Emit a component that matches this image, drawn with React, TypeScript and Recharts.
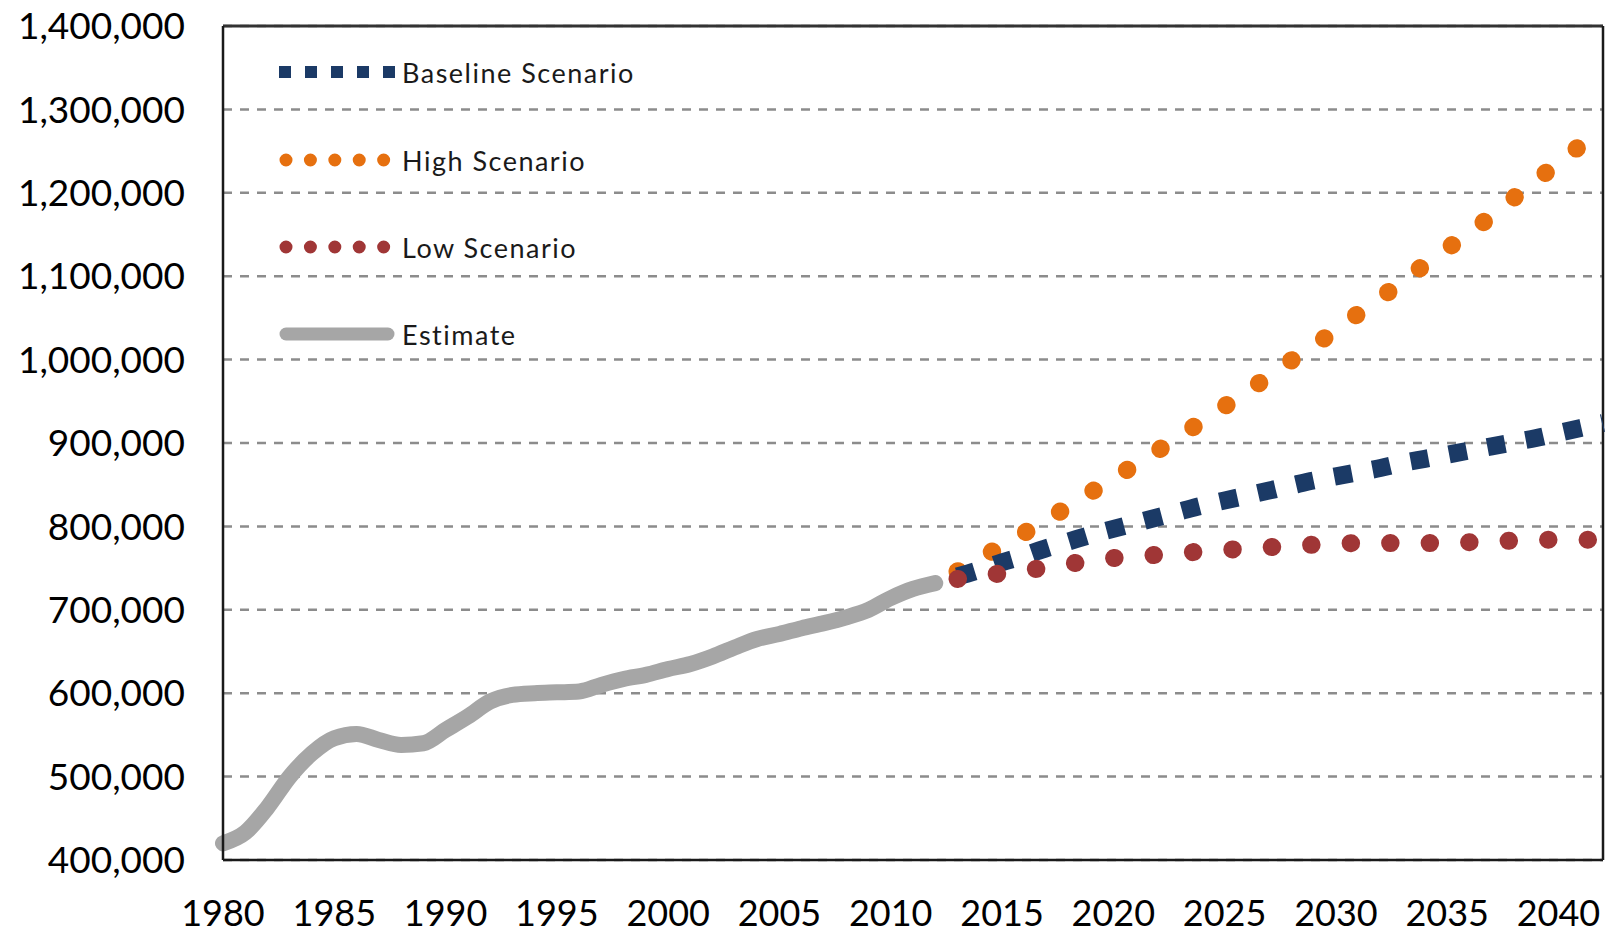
import React from 'react';
import { LineChart, Line, XAxis, YAxis, CartesianGrid, ReferenceLine } from 'recharts';

const estimateYears = [1980, 1981, 1982, 1983, 1984, 1985, 1986, 1987, 1988, 1989, 1990, 1991, 1992, 1993, 1994, 1995, 1996, 1997, 1998, 1999, 2000, 2001, 2002, 2003, 2004, 2005, 2006, 2007, 2008, 2009, 2010, 2011, 2012];
const estimate = [420000, 433000, 463000, 500000, 528000, 546000, 551000, 544000, 538000, 540000, 556000, 572000, 590000, 598000, 600000, 601000, 602000, 610000, 617000, 622000, 629000, 635000, 644000, 655000, 665000, 671000, 678000, 684000, 691000, 700000, 714000, 725000, 732000];

const projectionYears = [2013, 2014, 2015, 2016, 2017, 2018, 2019, 2020, 2021, 2022, 2023, 2024, 2025, 2026, 2027, 2028, 2029, 2030, 2031, 2032, 2033, 2034, 2035, 2036, 2037, 2038, 2039, 2040, 2041, 2042];
const baseline = [740000, 748000, 757000, 765000, 774000, 782000, 790000, 797000, 804000, 811000, 818000, 825000, 831000, 837000, 843000, 849000, 855000, 860000, 865000, 870000, 876000, 881000, 886000, 891000, 896000, 901000, 906000, 912000, 918000, 924000];
const high = [746000, 761000, 777000, 792000, 808000, 824000, 841000, 858000, 874000, 891000, 909000, 926000, 944000, 962000, 980000, 999000, 1017000, 1035000, 1055000, 1074000, 1094000, 1114000, 1133000, 1153000, 1172000, 1194000, 1215000, 1236000, 1257000, 1278000];
const low = [737000, 740000, 744000, 747000, 751000, 755000, 759000, 762000, 764000, 766000, 768000, 770000, 772000, 773000, 775000, 777000, 778000, 779000, 780000, 780000, 780000, 780000, 780000, 781000, 782000, 783000, 784000, 784000, 784000, 784000];

const xTicks = [1980, 1985, 1990, 1995, 2000, 2005, 2010, 2015, 2020, 2025, 2030, 2035, 2040];
const yTicks = [400000, 500000, 600000, 700000, 800000, 900000, 1000000, 1100000, 1200000, 1300000, 1400000];

const seriesNames = ['Baseline Scenario', 'High Scenario', 'Low Scenario', 'Estimate'];
const COLORS = { baseline: '#1b3a66', high: '#e6700f', low: '#a03636', estimate: '#a6a6a6' };

const rows: any[] = [];
estimateYears.forEach((y, i) => rows.push({ year: y, estimate: estimate[i] }));
projectionYears.forEach((y, i) => rows.push({ year: y, baseline: baseline[i], high: high[i], low: low[i] }));

const FONT = 'Lato, "Open Sans", sans-serif';

function LegendOverlay() {
  const ys = [72, 160, 247, 334];
  return (
    <svg width={700} height={400} style={{ position: 'absolute', left: 0, top: 0, pointerEvents: 'none' }}>
      <line x1={279} x2={395} y1={ys[0]} y2={ys[0]} stroke={COLORS.baseline} strokeWidth={12} strokeDasharray="12 14" />
      <line x1={286} x2={385} y1={ys[1]} y2={ys[1]} stroke={COLORS.high} strokeWidth={13} strokeDasharray="0.01 24.4" strokeLinecap="round" />
      <line x1={286} x2={385} y1={ys[2]} y2={ys[2]} stroke={COLORS.low} strokeWidth={13} strokeDasharray="0.01 24.4" strokeLinecap="round" />
      <line x1={286} x2={388} y1={ys[3]} y2={ys[3]} stroke={COLORS.estimate} strokeWidth={13} strokeLinecap="round" />
      {seriesNames.map((n, i) => (
        <text key={n} x={402} y={ys[i]} dominantBaseline="central" fontFamily={FONT} fontSize={27} letterSpacing={1.5} fill="#1a1a1a">
          {n}
        </text>
      ))}
    </svg>
  );
}

export default function App() {
  return (
    <div style={{ position: 'absolute', left: 0, top: 0, width: 1610, height: 934, background: '#fff' }}>
      <LineChart width={1610} height={934} data={rows} margin={{ top: 26, right: 7, bottom: 0, left: 0 }}>
        <CartesianGrid vertical={false} stroke="#8c8c8c" strokeWidth={2.5} strokeDasharray="9 8" />
        <XAxis
          type="number"
          dataKey="year"
          domain={[1980, 2042]}
          ticks={xTicks}
          interval={0}
          height={74}
          tickLine={false}
          tickSize={0}
          tickMargin={40}
          axisLine={{ stroke: '#1a1a1a', strokeWidth: 2.5 }}
          tick={{ fontFamily: FONT, fontSize: 36, fill: '#000' }}
        />
        <YAxis
          domain={[400000, 1400000]}
          ticks={yTicks}
          interval={0}
          width={223}
          tickLine={false}
          tickSize={0}
          tickMargin={38}
          axisLine={{ stroke: '#1a1a1a', strokeWidth: 2.5 }}
          tickFormatter={(v: number) => v.toLocaleString('en-US')}
          tick={{ fontFamily: FONT, fontSize: 37, fill: '#000' }}
        />
        <ReferenceLine y={1400000} stroke="#333" strokeWidth={3} />
        <ReferenceLine x={2042} stroke="#1a1a1a" strokeWidth={2.5} />
        <Line dataKey="estimate" type="monotone" stroke={COLORS.estimate} strokeWidth={16} strokeLinecap="round" strokeLinejoin="round" dot={false} activeDot={false} isAnimationActive={false} />
        <Line dataKey="high" type="monotone" stroke={COLORS.high} strokeWidth={18} strokeDasharray="0.5 39" strokeLinecap="round" dot={false} activeDot={false} isAnimationActive={false} />
        <Line dataKey="baseline" type="monotone" stroke={COLORS.baseline} strokeWidth={18} strokeDasharray="18 21" dot={false} activeDot={false} isAnimationActive={false} />
        <Line dataKey="low" type="monotone" stroke={COLORS.low} strokeWidth={18} strokeDasharray="0.5 39" strokeLinecap="round" dot={false} activeDot={false} isAnimationActive={false} />
      </LineChart>
      <LegendOverlay />
    </div>
  );
}
